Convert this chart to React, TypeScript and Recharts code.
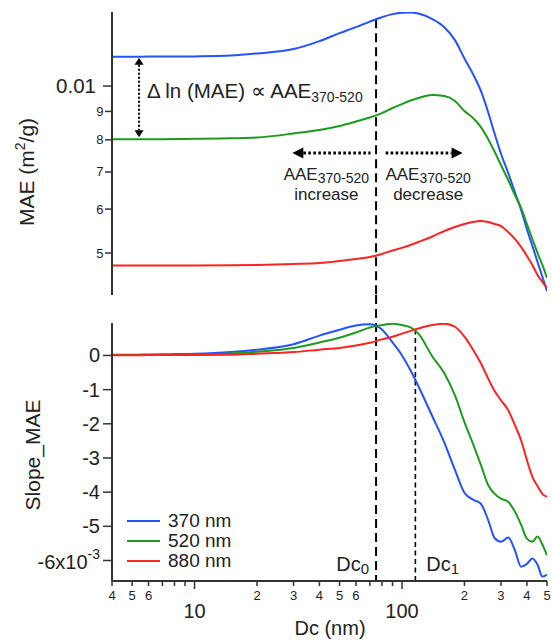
import React from 'react';
import { LineChart, Line, XAxis, YAxis, ReferenceLine } from 'recharts';

const FONT = "'Liberation Sans', Arial, Helvetica, sans-serif";

// Mobility diameter grid (nm)
const dc = [4, 5, 6, 8, 10, 15, 20, 30, 40, 50, 60, 70, 80, 90, 100, 110, 120, 140, 160, 180, 200, 220, 240, 260, 280, 300, 325, 350, 375, 400, 425, 450, 475, 500];

// MAE (x1e-3 m2/g)
const mae370 = [11.29, 11.29, 11.3, 11.3, 11.31, 11.35, 11.45, 11.66, 12.05, 12.46, 12.77, 13.07, 13.31, 13.48, 13.56, 13.57, 13.51, 13.2, 12.77, 12.1, 11.21, 10.51, 9.8, 8.98, 8.19, 7.55, 6.97, 6.44, 5.98, 5.52, 5.15, 4.82, 4.53, 4.27];
const mae520 = [8.015, 8.015, 8.018, 8.025, 8.032, 8.049, 8.076, 8.212, 8.332, 8.472, 8.631, 8.776, 8.94, 9.128, 9.281, 9.416, 9.514, 9.633, 9.594, 9.397, 9.015, 8.758, 8.435, 8.025, 7.604, 7.204, 6.77, 6.36, 6.03, 5.64, 5.3, 5.001, 4.758, 4.508];
const mae880 = [4.745, 4.745, 4.746, 4.747, 4.747, 4.751, 4.758, 4.778, 4.798, 4.838, 4.879, 4.919, 4.981, 5.054, 5.107, 5.168, 5.233, 5.355, 5.478, 5.57, 5.64, 5.687, 5.711, 5.687, 5.64, 5.593, 5.455, 5.3, 5.128, 4.94, 4.758, 4.564, 4.433, 4.324];

// Slope_MAE (x1e-3)
const slope370 = [0.02, 0.02, 0.03, 0.04, 0.05, 0.1, 0.17, 0.33, 0.58, 0.75, 0.88, 0.91, 0.76, 0.38, 0.0, -0.44, -0.9, -1.78, -2.55, -3.35, -4.02, -4.22, -4.34, -4.81, -5.35, -5.45, -5.33, -5.7, -6.18, -6.1, -5.94, -6.12, -6.47, -6.41];
const slope520 = [0.01, 0.01, 0.015, 0.02, 0.03, 0.06, 0.11, 0.22, 0.38, 0.52, 0.67, 0.82, 0.89, 0.93, 0.89, 0.82, 0.64, -0.03, -0.52, -1.17, -1.95, -2.59, -3.2, -3.79, -4.05, -4.19, -4.28, -4.57, -4.95, -5.36, -5.45, -5.3, -5.53, -5.85];
const slope880 = [0.005, 0.005, 0.01, 0.01, 0.015, 0.02, 0.05, 0.1, 0.17, 0.22, 0.29, 0.37, 0.47, 0.55, 0.64, 0.72, 0.79, 0.89, 0.93, 0.84, 0.55, 0.17, -0.23, -0.67, -1.05, -1.31, -1.6, -2.04, -2.48, -3.06, -3.55, -3.82, -4.05, -4.14];

const seriesKeys = ['s370', 's520', 's880'];
const seriesNames = ['370 nm', '520 nm', '880 nm'];
const seriesColors = ['#2552ff', '#1e9a1e', '#ff2222'];

const xTicks = [4, 5, 6, 7, 8, 9, 10, 20, 30, 40, 50, 60, 70, 80, 90, 100, 200, 300, 400, 500];
const xSmallLabels = [4, 5, 6, 20, 30, 40, 50, 60, 200, 300, 400, 500];
const xMajorLabels = [10, 100];
const maeTicks = [5, 6, 7, 8, 9, 10];
const slopeTicks = [-6, -5, -4, -3, -2, -1, 0];

const dc0 = 75;
const dc1 = 116;
const dc0TopMae = 13.2;
const dc1Slope = 0.76;
const arrowDc = 5.4;
const hArrowMae = 7.57;
const leftArrow = [29.6, 70.5];
const rightArrow = [83.4, 196];

const topData = dc.map((d, i) => ({ dc: d, s370: mae370[i], s520: mae520[i], s880: mae880[i] }));
const botData = dc.map((d, i) => ({ dc: d, s370: slope370[i], s520: slope520[i], s880: slope880[i] }));

const AX = '#333';

const XTick = (p: any) => {
  const { x, y, payload } = p;
  const v = payload.value;
  const major = xMajorLabels.includes(v);
  const small = xSmallLabels.includes(v);
  return (
    <g>
      <line x1={x} x2={x} y1={y} y2={y + (major ? 8 : 5)} stroke={AX} strokeWidth={1.5} />
      {small && (
        <text x={x} y={y + 19} textAnchor="middle" fontSize={13} fontFamily={FONT} fill="#222">
          {String(v)[0]}
        </text>
      )}
      {major && (
        <text x={x} y={y + 37} textAnchor="middle" fontSize={20} fontFamily={FONT} fill="#222">
          {v}
        </text>
      )}
    </g>
  );
};

const MaeTick = (p: any) => {
  const { x, y, payload } = p;
  const v = payload.value;
  const major = v === 10;
  return (
    <g>
      <line x1={x - (major ? 9 : 7)} x2={x} y1={y} y2={y} stroke={AX} strokeWidth={1.5} />
      <text x={major ? x - 16 : x - 8.5} y={y + (major ? 7 : 4.5)} textAnchor="end" fontSize={major ? 20.5 : 13} fontFamily={FONT} fill="#222">
        {major ? '0.01' : v}
      </text>
    </g>
  );
};

const SlopeTick = (p: any) => {
  const { x, y, payload } = p;
  const v = payload.value;
  return (
    <g>
      <line x1={x - 9} x2={x} y1={y} y2={y} stroke={AX} strokeWidth={1.5} />
      {v === -6 ? (
        <text x={x - 12} y={y + 9} textAnchor="end" fontSize={20} fontFamily={FONT} fill="#222">
          -6x10<tspan fontSize={14} dy={-10}>-3</tspan>
        </text>
      ) : (
        <text x={x - 12} y={y + 7} textAnchor="end" fontSize={20} fontFamily={FONT} fill="#222">
          {v}
        </text>
      )}
    </g>
  );
};

const VArrow = (p: any) => {
  const x = p.x1;
  const yTop = Math.min(p.y1, p.y2) + 1;
  const yBot = Math.max(p.y1, p.y2) - 2;
  const h = 7;
  const w = 4.5;
  return (
    <g>
      <line x1={x} x2={x} y1={yTop + h} y2={yBot - h} stroke="#000" strokeWidth={2} strokeDasharray="2 2" />
      <polygon points={`${x},${yTop} ${x - w},${yTop + h} ${x + w},${yTop + h}`} fill="#000" />
      <polygon points={`${x},${yBot} ${x - w},${yBot - h} ${x + w},${yBot - h}`} fill="#000" />
      <text x={x + 8} y={(yTop + yBot) / 2} fontSize={20.5} fontFamily={FONT} fill="#222">
        Δ ln (MAE) ∝ AAE<tspan fontSize={14} dy={4}>370-520</tspan>
      </text>
    </g>
  );
};

const makeHArrow = (dir: 'left' | 'right', word: string, shift: number) => (p: any) => {
  const y = p.y1;
  const xa = Math.min(p.x1, p.x2);
  const xb = Math.max(p.x1, p.x2);
  const L = 11;
  const W = 5.5;
  const lx1 = dir === 'left' ? xa + L : xa;
  const lx2 = dir === 'left' ? xb : xb - L;
  const head = dir === 'left'
    ? `${xa},${y} ${xa + L},${y - W} ${xa + L},${y + W}`
    : `${xb},${y} ${xb - L},${y - W} ${xb - L},${y + W}`;
  const cx = (xa + xb) / 2 + shift;
  return (
    <g>
      <line x1={lx1} x2={lx2} y1={y} y2={y} stroke="#000" strokeWidth={3} strokeDasharray="2.6 2.4" />
      <polygon points={head} fill="#000" />
      <text x={cx} y={y + 27} textAnchor="middle" fontSize={17} fontFamily={FONT} fill="#222">
        AAE<tspan fontSize={14} dy={3}>370-520</tspan>
      </text>
      <text x={cx} y={y + 47} textAnchor="middle" fontSize={17} fontFamily={FONT} fill="#222">
        {word}
      </text>
    </g>
  );
};

const LeftArrow = makeHArrow('left', 'increase', -5);
const RightArrow = makeHArrow('right', 'decrease', 4);

const Dc0Bottom = (p: any) => {
  const x = p.x1;
  const yb = Math.max(p.y1, p.y2);
  return (
    <g>
      <line x1={x} x2={x} y1={0} y2={yb} stroke="#000" strokeWidth={2} strokeDasharray="9 5" />
      <text x={x - 7} y={yb - 10} textAnchor="end" fontSize={20} fontFamily={FONT} fill="#222">
        Dc<tspan fontSize={15} dy={3}>0</tspan>
      </text>
    </g>
  );
};

const Dc1Bottom = (p: any) => {
  const x = p.x1;
  const yt = Math.min(p.y1, p.y2);
  const yb = Math.max(p.y1, p.y2);
  return (
    <g>
      <line x1={x} x2={x} y1={yt} y2={yb} stroke="#000" strokeWidth={1.6} strokeDasharray="5 3.5" />
      <text x={x + 11} y={yb - 10} textAnchor="start" fontSize={20} fontFamily={FONT} fill="#222">
        Dc<tspan fontSize={15} dy={3}>1</tspan>
      </text>
    </g>
  );
};

export default function App() {
  return (
    <div style={{ position: 'absolute', left: 0, top: 0, width: 553, height: 643, background: '#fff', fontFamily: FONT }}>
      <div style={{ position: 'absolute', left: 0, top: 0 }}>
        <LineChart width={553} height={300} data={topData} margin={{ top: 12, right: 6, bottom: 5, left: 0 }}>
          <XAxis dataKey="dc" type="number" scale="log" domain={[4, 500]} allowDataOverflow hide height={0} ticks={xTicks} />
          <YAxis
            type="number"
            scale="log"
            domain={[4.2, 13.6]}
            allowDataOverflow
            ticks={maeTicks}
            interval={0}
            width={112}
            tickSize={0}
            tickMargin={0}
            tickLine={false}
            tick={(p: any) => <MaeTick {...p} />}
            axisLine={{ stroke: AX, strokeWidth: 2 }}
          />
          <ReferenceLine segment={[{ x: dc0, y: dc0TopMae }, { x: dc0, y: 4.2 }]} stroke="#000" strokeWidth={2} strokeDasharray="9 5" ifOverflow="visible" />
          <ReferenceLine segment={[{ x: arrowDc, y: mae370[0] }, { x: arrowDc, y: mae520[0] }]} shape={VArrow} ifOverflow="visible" />
          <ReferenceLine segment={[{ x: leftArrow[0], y: hArrowMae }, { x: leftArrow[1], y: hArrowMae }]} shape={LeftArrow} ifOverflow="visible" />
          <ReferenceLine segment={[{ x: rightArrow[0], y: hArrowMae }, { x: rightArrow[1], y: hArrowMae }]} shape={RightArrow} ifOverflow="visible" />
          {seriesKeys.map((k, i) => (
            <Line key={k} dataKey={k} type="monotone" stroke={seriesColors[i]} strokeWidth={2} dot={false} isAnimationActive={false} />
          ))}
        </LineChart>
      </div>
      <div style={{ position: 'absolute', left: 0, top: 295 }}>
        <LineChart width={553} height={348} data={botData} margin={{ top: 28, right: 6, bottom: 0, left: 0 }}>
          <XAxis
            dataKey="dc"
            type="number"
            scale="log"
            domain={[4, 500]}
            allowDataOverflow
            ticks={xTicks}
            interval={0}
            height={62}
            tickSize={0}
            tickMargin={0}
            tickLine={false}
            tick={(p: any) => <XTick {...p} />}
            axisLine={{ stroke: AX, strokeWidth: 2 }}
          />
          <YAxis
            type="number"
            domain={[-6.6, 0.95]}
            allowDataOverflow
            ticks={slopeTicks}
            interval={0}
            width={112}
            tickSize={0}
            tickMargin={0}
            tickLine={false}
            tick={(p: any) => <SlopeTick {...p} />}
            axisLine={{ stroke: AX, strokeWidth: 2 }}
          />
          <ReferenceLine x={dc0} shape={Dc0Bottom} ifOverflow="visible" />
          <ReferenceLine segment={[{ x: dc1, y: dc1Slope }, { x: dc1, y: -6.6 }]} shape={Dc1Bottom} ifOverflow="visible" />
          {seriesKeys.map((k, i) => (
            <Line key={k} dataKey={k} type="monotone" stroke={seriesColors[i]} strokeWidth={2} dot={false} isAnimationActive={false} />
          ))}
        </LineChart>
      </div>
      <svg width={553} height={643} style={{ position: 'absolute', left: 0, top: 0, pointerEvents: 'none' }}>
        <text transform="rotate(-90, 34, 172)" x={34} y={172} textAnchor="middle" fontSize={21} fontFamily={FONT} fill="#222">
          MAE (m<tspan fontSize={14} dy={-9}>2</tspan><tspan dy={9}>/g)</tspan>
        </text>
        <text transform="rotate(-90, 40, 455)" x={40} y={455} textAnchor="middle" fontSize={21} fontFamily={FONT} fill="#222">
          Slope_MAE
        </text>
        <text x={330} y={635} textAnchor="middle" fontSize={20} fontFamily={FONT} fill="#222">
          Dc (nm)
        </text>
        {seriesNames.map((n, i) => (
          <g key={n}>
            <line x1={127} x2={160} y1={521 + i * 20} y2={521 + i * 20} stroke={seriesColors[i]} strokeWidth={2} />
            <text x={168} y={527 + i * 20} fontSize={19} fontFamily={FONT} fill="#222">
              {n}
            </text>
          </g>
        ))}
      </svg>
    </div>
  );
}
